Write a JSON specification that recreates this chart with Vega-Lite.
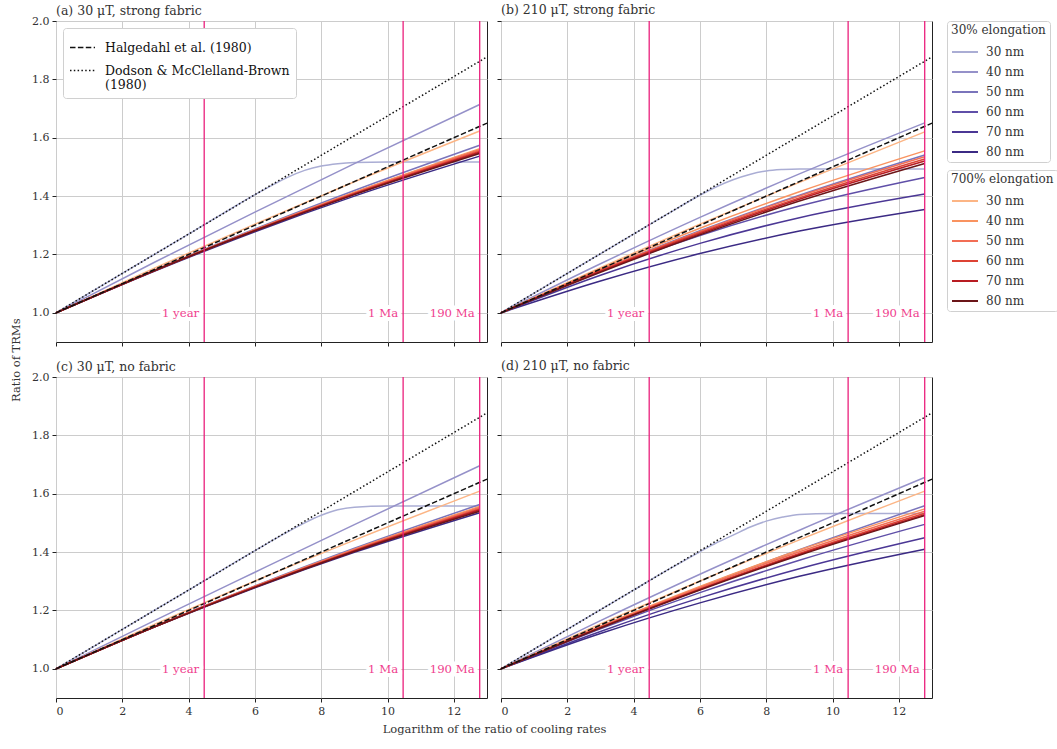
{
  "$schema": "https://vega.github.io/schema/vega-lite/v6.json",
  "padding": {"left": 10, "top": 3, "right": 2, "bottom": 5},
  "datasets": {
    "refs": [
      {"model": "Halgedahl et al. (1980)", "x": 0, "y": 1},
      {"model": "Halgedahl et al. (1980)", "x": 13, "y": 1.65},
      {"model": "Dodson & McClelland-Brown (1980)", "x": 0, "y": 1},
      {"model": "Dodson & McClelland-Brown (1980)", "x": 13, "y": 1.877}
    ],
    "markers": [
      {"event": "1 year", "x": 4.47},
      {"event": "1 Ma", "x": 10.47},
      {"event": "190 Ma", "x": 12.78}
    ],
    "curves": [
      {"panel":"a","elong":"30%","size_30":"30 nm","x":0,"y":1},{"panel":"a","elong":"30%","size_30":"30 nm","x":2,"y":1.135},{"panel":"a","elong":"30%","size_30":"30 nm","x":4,"y":1.27},{"panel":"a","elong":"30%","size_30":"30 nm","x":5,"y":1.338},{"panel":"a","elong":"30%","size_30":"30 nm","x":6,"y":1.405},{"panel":"a","elong":"30%","size_30":"30 nm","x":6.5,"y":1.436},{"panel":"a","elong":"30%","size_30":"30 nm","x":7,"y":1.465},{"panel":"a","elong":"30%","size_30":"30 nm","x":7.5,"y":1.488},{"panel":"a","elong":"30%","size_30":"30 nm","x":8,"y":1.503},{"panel":"a","elong":"30%","size_30":"30 nm","x":8.5,"y":1.511},{"panel":"a","elong":"30%","size_30":"30 nm","x":9,"y":1.515},{"panel":"a","elong":"30%","size_30":"30 nm","x":10,"y":1.517},{"panel":"a","elong":"30%","size_30":"30 nm","x":12.78,"y":1.517},
      {"panel":"a","elong":"30%","size_30":"40 nm","x":0,"y":1},{"panel":"a","elong":"30%","size_30":"40 nm","x":3,"y":1.175},{"panel":"a","elong":"30%","size_30":"40 nm","x":6,"y":1.345},{"panel":"a","elong":"30%","size_30":"40 nm","x":9,"y":1.511},{"panel":"a","elong":"30%","size_30":"40 nm","x":12.78,"y":1.714},
      {"panel":"a","elong":"30%","size_30":"50 nm","x":0,"y":1},{"panel":"a","elong":"30%","size_30":"50 nm","x":3,"y":1.148},{"panel":"a","elong":"30%","size_30":"50 nm","x":6,"y":1.287},{"panel":"a","elong":"30%","size_30":"50 nm","x":9,"y":1.419},{"panel":"a","elong":"30%","size_30":"50 nm","x":12.78,"y":1.574},
      {"panel":"a","elong":"30%","size_30":"60 nm","x":0,"y":1},{"panel":"a","elong":"30%","size_30":"60 nm","x":3,"y":1.147},{"panel":"a","elong":"30%","size_30":"60 nm","x":6,"y":1.284},{"panel":"a","elong":"30%","size_30":"60 nm","x":9,"y":1.412},{"panel":"a","elong":"30%","size_30":"60 nm","x":12.78,"y":1.56},
      {"panel":"a","elong":"30%","size_30":"70 nm","x":0,"y":1},{"panel":"a","elong":"30%","size_30":"70 nm","x":3,"y":1.146},{"panel":"a","elong":"30%","size_30":"70 nm","x":6,"y":1.281},{"panel":"a","elong":"30%","size_30":"70 nm","x":9,"y":1.407},{"panel":"a","elong":"30%","size_30":"70 nm","x":12.78,"y":1.55},
      {"panel":"a","elong":"30%","size_30":"80 nm","x":0,"y":1},{"panel":"a","elong":"30%","size_30":"80 nm","x":3,"y":1.144},{"panel":"a","elong":"30%","size_30":"80 nm","x":6,"y":1.278},{"panel":"a","elong":"30%","size_30":"80 nm","x":9,"y":1.4},{"panel":"a","elong":"30%","size_30":"80 nm","x":12.78,"y":1.537},
      {"panel":"a","elong":"700%","size_700":30,"x":0,"y":1},{"panel":"a","elong":"700%","size_700":30,"x":3,"y":1.155},{"panel":"a","elong":"700%","size_700":30,"x":6,"y":1.304},{"panel":"a","elong":"700%","size_700":30,"x":9,"y":1.449},{"panel":"a","elong":"700%","size_700":30,"x":12.78,"y":1.623},
      {"panel":"a","elong":"700%","size_700":40,"x":0,"y":1},{"panel":"a","elong":"700%","size_700":40,"x":3,"y":1.147},{"panel":"a","elong":"700%","size_700":40,"x":6,"y":1.285},{"panel":"a","elong":"700%","size_700":40,"x":9,"y":1.413},{"panel":"a","elong":"700%","size_700":40,"x":12.78,"y":1.562},
      {"panel":"a","elong":"700%","size_700":50,"x":0,"y":1},{"panel":"a","elong":"700%","size_700":50,"x":3,"y":1.147},{"panel":"a","elong":"700%","size_700":50,"x":6,"y":1.284},{"panel":"a","elong":"700%","size_700":50,"x":9,"y":1.411},{"panel":"a","elong":"700%","size_700":50,"x":12.78,"y":1.558},
      {"panel":"a","elong":"700%","size_700":60,"x":0,"y":1},{"panel":"a","elong":"700%","size_700":60,"x":3,"y":1.146},{"panel":"a","elong":"700%","size_700":60,"x":6,"y":1.283},{"panel":"a","elong":"700%","size_700":60,"x":9,"y":1.409},{"panel":"a","elong":"700%","size_700":60,"x":12.78,"y":1.554},
      {"panel":"a","elong":"700%","size_700":70,"x":0,"y":1},{"panel":"a","elong":"700%","size_700":70,"x":3,"y":1.146},{"panel":"a","elong":"700%","size_700":70,"x":6,"y":1.282},{"panel":"a","elong":"700%","size_700":70,"x":9,"y":1.407},{"panel":"a","elong":"700%","size_700":70,"x":12.78,"y":1.55},
      {"panel":"a","elong":"700%","size_700":80,"x":0,"y":1},{"panel":"a","elong":"700%","size_700":80,"x":3,"y":1.146},{"panel":"a","elong":"700%","size_700":80,"x":6,"y":1.281},{"panel":"a","elong":"700%","size_700":80,"x":9,"y":1.405},{"panel":"a","elong":"700%","size_700":80,"x":12.78,"y":1.546},

      {"panel":"b","elong":"30%","size_30":"30 nm","x":0,"y":1},{"panel":"b","elong":"30%","size_30":"30 nm","x":2,"y":1.135},{"panel":"b","elong":"30%","size_30":"30 nm","x":4,"y":1.27},{"panel":"b","elong":"30%","size_30":"30 nm","x":5,"y":1.337},{"panel":"b","elong":"30%","size_30":"30 nm","x":6,"y":1.403},{"panel":"b","elong":"30%","size_30":"30 nm","x":6.5,"y":1.432},{"panel":"b","elong":"30%","size_30":"30 nm","x":7,"y":1.456},{"panel":"b","elong":"30%","size_30":"30 nm","x":7.5,"y":1.474},{"panel":"b","elong":"30%","size_30":"30 nm","x":8,"y":1.486},{"panel":"b","elong":"30%","size_30":"30 nm","x":8.5,"y":1.491},{"panel":"b","elong":"30%","size_30":"30 nm","x":9,"y":1.493},{"panel":"b","elong":"30%","size_30":"30 nm","x":10,"y":1.493},{"panel":"b","elong":"30%","size_30":"30 nm","x":12.78,"y":1.493},
      {"panel":"b","elong":"30%","size_30":"40 nm","x":0,"y":1},{"panel":"b","elong":"30%","size_30":"40 nm","x":3,"y":1.168},{"panel":"b","elong":"30%","size_30":"40 nm","x":6,"y":1.327},{"panel":"b","elong":"30%","size_30":"40 nm","x":9,"y":1.476},{"panel":"b","elong":"30%","size_30":"40 nm","x":12.78,"y":1.651},
      {"panel":"b","elong":"30%","size_30":"50 nm","x":0,"y":1},{"panel":"b","elong":"30%","size_30":"50 nm","x":3,"y":1.146},{"panel":"b","elong":"30%","size_30":"50 nm","x":6,"y":1.281},{"panel":"b","elong":"30%","size_30":"50 nm","x":9,"y":1.403},{"panel":"b","elong":"30%","size_30":"50 nm","x":12.78,"y":1.541},
      {"panel":"b","elong":"30%","size_30":"60 nm","x":0,"y":1},{"panel":"b","elong":"30%","size_30":"60 nm","x":3,"y":1.143},{"panel":"b","elong":"30%","size_30":"60 nm","x":6,"y":1.265},{"panel":"b","elong":"30%","size_30":"60 nm","x":9,"y":1.366},{"panel":"b","elong":"30%","size_30":"60 nm","x":12.78,"y":1.464},
      {"panel":"b","elong":"30%","size_30":"70 nm","x":0,"y":1},{"panel":"b","elong":"30%","size_30":"70 nm","x":3,"y":1.129},{"panel":"b","elong":"30%","size_30":"70 nm","x":6,"y":1.238},{"panel":"b","elong":"30%","size_30":"70 nm","x":9,"y":1.326},{"panel":"b","elong":"30%","size_30":"70 nm","x":12.78,"y":1.407},
      {"panel":"b","elong":"30%","size_30":"80 nm","x":0,"y":1},{"panel":"b","elong":"30%","size_30":"80 nm","x":3,"y":1.109},{"panel":"b","elong":"30%","size_30":"80 nm","x":6,"y":1.203},{"panel":"b","elong":"30%","size_30":"80 nm","x":9,"y":1.28},{"panel":"b","elong":"30%","size_30":"80 nm","x":12.78,"y":1.354},
      {"panel":"b","elong":"700%","size_700":30,"x":0,"y":1},{"panel":"b","elong":"700%","size_700":30,"x":3,"y":1.155},{"panel":"b","elong":"700%","size_700":30,"x":6,"y":1.304},{"panel":"b","elong":"700%","size_700":30,"x":9,"y":1.447},{"panel":"b","elong":"700%","size_700":30,"x":12.78,"y":1.62},
      {"panel":"b","elong":"700%","size_700":40,"x":0,"y":1},{"panel":"b","elong":"700%","size_700":40,"x":3,"y":1.151},{"panel":"b","elong":"700%","size_700":40,"x":6,"y":1.29},{"panel":"b","elong":"700%","size_700":40,"x":9,"y":1.415},{"panel":"b","elong":"700%","size_700":40,"x":12.78,"y":1.555},
      {"panel":"b","elong":"700%","size_700":50,"x":0,"y":1},{"panel":"b","elong":"700%","size_700":50,"x":3,"y":1.146},{"panel":"b","elong":"700%","size_700":50,"x":6,"y":1.279},{"panel":"b","elong":"700%","size_700":50,"x":9,"y":1.4},{"panel":"b","elong":"700%","size_700":50,"x":12.78,"y":1.535},
      {"panel":"b","elong":"700%","size_700":60,"x":0,"y":1},{"panel":"b","elong":"700%","size_700":60,"x":3,"y":1.144},{"panel":"b","elong":"700%","size_700":60,"x":6,"y":1.275},{"panel":"b","elong":"700%","size_700":60,"x":9,"y":1.394},{"panel":"b","elong":"700%","size_700":60,"x":12.78,"y":1.527},
      {"panel":"b","elong":"700%","size_700":70,"x":0,"y":1},{"panel":"b","elong":"700%","size_700":70,"x":3,"y":1.142},{"panel":"b","elong":"700%","size_700":70,"x":6,"y":1.271},{"panel":"b","elong":"700%","size_700":70,"x":9,"y":1.389},{"panel":"b","elong":"700%","size_700":70,"x":12.78,"y":1.52},
      {"panel":"b","elong":"700%","size_700":80,"x":0,"y":1},{"panel":"b","elong":"700%","size_700":80,"x":3,"y":1.139},{"panel":"b","elong":"700%","size_700":80,"x":6,"y":1.267},{"panel":"b","elong":"700%","size_700":80,"x":9,"y":1.383},{"panel":"b","elong":"700%","size_700":80,"x":12.78,"y":1.512},

      {"panel":"c","elong":"30%","size_30":"30 nm","x":0,"y":1},{"panel":"c","elong":"30%","size_30":"30 nm","x":2,"y":1.135},{"panel":"c","elong":"30%","size_30":"30 nm","x":4,"y":1.27},{"panel":"c","elong":"30%","size_30":"30 nm","x":6,"y":1.405},{"panel":"c","elong":"30%","size_30":"30 nm","x":7,"y":1.47},{"panel":"c","elong":"30%","size_30":"30 nm","x":7.5,"y":1.5},{"panel":"c","elong":"30%","size_30":"30 nm","x":8,"y":1.526},{"panel":"c","elong":"30%","size_30":"30 nm","x":8.5,"y":1.545},{"panel":"c","elong":"30%","size_30":"30 nm","x":9,"y":1.554},{"panel":"c","elong":"30%","size_30":"30 nm","x":10,"y":1.558},{"panel":"c","elong":"30%","size_30":"30 nm","x":12.78,"y":1.558},
      {"panel":"c","elong":"30%","size_30":"40 nm","x":0,"y":1},{"panel":"c","elong":"30%","size_30":"40 nm","x":3,"y":1.167},{"panel":"c","elong":"30%","size_30":"40 nm","x":6,"y":1.331},{"panel":"c","elong":"30%","size_30":"40 nm","x":9,"y":1.494},{"panel":"c","elong":"30%","size_30":"40 nm","x":12.78,"y":1.696},
      {"panel":"c","elong":"30%","size_30":"50 nm","x":0,"y":1},{"panel":"c","elong":"30%","size_30":"50 nm","x":3,"y":1.147},{"panel":"c","elong":"30%","size_30":"50 nm","x":6,"y":1.284},{"panel":"c","elong":"30%","size_30":"50 nm","x":9,"y":1.413},{"panel":"c","elong":"30%","size_30":"50 nm","x":12.78,"y":1.563},
      {"panel":"c","elong":"30%","size_30":"60 nm","x":0,"y":1},{"panel":"c","elong":"30%","size_30":"60 nm","x":3,"y":1.146},{"panel":"c","elong":"30%","size_30":"60 nm","x":6,"y":1.282},{"panel":"c","elong":"30%","size_30":"60 nm","x":9,"y":1.408},{"panel":"c","elong":"30%","size_30":"60 nm","x":12.78,"y":1.553},
      {"panel":"c","elong":"30%","size_30":"70 nm","x":0,"y":1},{"panel":"c","elong":"30%","size_30":"70 nm","x":3,"y":1.146},{"panel":"c","elong":"30%","size_30":"70 nm","x":6,"y":1.28},{"panel":"c","elong":"30%","size_30":"70 nm","x":9,"y":1.404},{"panel":"c","elong":"30%","size_30":"70 nm","x":12.78,"y":1.545},
      {"panel":"c","elong":"30%","size_30":"80 nm","x":0,"y":1},{"panel":"c","elong":"30%","size_30":"80 nm","x":3,"y":1.145},{"panel":"c","elong":"30%","size_30":"80 nm","x":6,"y":1.278},{"panel":"c","elong":"30%","size_30":"80 nm","x":9,"y":1.399},{"panel":"c","elong":"30%","size_30":"80 nm","x":12.78,"y":1.535},
      {"panel":"c","elong":"700%","size_700":30,"x":0,"y":1},{"panel":"c","elong":"700%","size_700":30,"x":3,"y":1.154},{"panel":"c","elong":"700%","size_700":30,"x":6,"y":1.301},{"panel":"c","elong":"700%","size_700":30,"x":9,"y":1.441},{"panel":"c","elong":"700%","size_700":30,"x":12.78,"y":1.609},
      {"panel":"c","elong":"700%","size_700":40,"x":0,"y":1},{"panel":"c","elong":"700%","size_700":40,"x":3,"y":1.146},{"panel":"c","elong":"700%","size_700":40,"x":6,"y":1.283},{"panel":"c","elong":"700%","size_700":40,"x":9,"y":1.41},{"panel":"c","elong":"700%","size_700":40,"x":12.78,"y":1.556},
      {"panel":"c","elong":"700%","size_700":50,"x":0,"y":1},{"panel":"c","elong":"700%","size_700":50,"x":3,"y":1.146},{"panel":"c","elong":"700%","size_700":50,"x":6,"y":1.282},{"panel":"c","elong":"700%","size_700":50,"x":9,"y":1.408},{"panel":"c","elong":"700%","size_700":50,"x":12.78,"y":1.552},
      {"panel":"c","elong":"700%","size_700":60,"x":0,"y":1},{"panel":"c","elong":"700%","size_700":60,"x":3,"y":1.146},{"panel":"c","elong":"700%","size_700":60,"x":6,"y":1.281},{"panel":"c","elong":"700%","size_700":60,"x":9,"y":1.406},{"panel":"c","elong":"700%","size_700":60,"x":12.78,"y":1.548},
      {"panel":"c","elong":"700%","size_700":70,"x":0,"y":1},{"panel":"c","elong":"700%","size_700":70,"x":3,"y":1.145},{"panel":"c","elong":"700%","size_700":70,"x":6,"y":1.28},{"panel":"c","elong":"700%","size_700":70,"x":9,"y":1.404},{"panel":"c","elong":"700%","size_700":70,"x":12.78,"y":1.544},
      {"panel":"c","elong":"700%","size_700":80,"x":0,"y":1},{"panel":"c","elong":"700%","size_700":80,"x":3,"y":1.145},{"panel":"c","elong":"700%","size_700":80,"x":6,"y":1.279},{"panel":"c","elong":"700%","size_700":80,"x":9,"y":1.402},{"panel":"c","elong":"700%","size_700":80,"x":12.78,"y":1.54},

      {"panel":"d","elong":"30%","size_30":"30 nm","x":0,"y":1},{"panel":"d","elong":"30%","size_30":"30 nm","x":2,"y":1.135},{"panel":"d","elong":"30%","size_30":"30 nm","x":4,"y":1.27},{"panel":"d","elong":"30%","size_30":"30 nm","x":5,"y":1.337},{"panel":"d","elong":"30%","size_30":"30 nm","x":6,"y":1.401},{"panel":"d","elong":"30%","size_30":"30 nm","x":6.5,"y":1.432},{"panel":"d","elong":"30%","size_30":"30 nm","x":7,"y":1.458},{"panel":"d","elong":"30%","size_30":"30 nm","x":7.5,"y":1.485},{"panel":"d","elong":"30%","size_30":"30 nm","x":8,"y":1.506},{"panel":"d","elong":"30%","size_30":"30 nm","x":8.5,"y":1.52},{"panel":"d","elong":"30%","size_30":"30 nm","x":9,"y":1.529},{"panel":"d","elong":"30%","size_30":"30 nm","x":10,"y":1.532},{"panel":"d","elong":"30%","size_30":"30 nm","x":12.78,"y":1.532},
      {"panel":"d","elong":"30%","size_30":"40 nm","x":0,"y":1},{"panel":"d","elong":"30%","size_30":"40 nm","x":3,"y":1.165},{"panel":"d","elong":"30%","size_30":"40 nm","x":6,"y":1.324},{"panel":"d","elong":"30%","size_30":"40 nm","x":9,"y":1.475},{"panel":"d","elong":"30%","size_30":"40 nm","x":12.78,"y":1.656},
      {"panel":"d","elong":"30%","size_30":"50 nm","x":0,"y":1},{"panel":"d","elong":"30%","size_30":"50 nm","x":3,"y":1.144},{"panel":"d","elong":"30%","size_30":"50 nm","x":6,"y":1.28},{"panel":"d","elong":"30%","size_30":"50 nm","x":9,"y":1.408},{"panel":"d","elong":"30%","size_30":"50 nm","x":12.78,"y":1.559},
      {"panel":"d","elong":"30%","size_30":"60 nm","x":0,"y":1},{"panel":"d","elong":"30%","size_30":"60 nm","x":3,"y":1.137},{"panel":"d","elong":"30%","size_30":"60 nm","x":6,"y":1.261},{"panel":"d","elong":"30%","size_30":"60 nm","x":9,"y":1.372},{"panel":"d","elong":"30%","size_30":"60 nm","x":12.78,"y":1.495},
      {"panel":"d","elong":"30%","size_30":"70 nm","x":0,"y":1},{"panel":"d","elong":"30%","size_30":"70 nm","x":3,"y":1.128},{"panel":"d","elong":"30%","size_30":"70 nm","x":6,"y":1.243},{"panel":"d","elong":"30%","size_30":"70 nm","x":9,"y":1.343},{"panel":"d","elong":"30%","size_30":"70 nm","x":12.78,"y":1.449},
      {"panel":"d","elong":"30%","size_30":"80 nm","x":0,"y":1},{"panel":"d","elong":"30%","size_30":"80 nm","x":3,"y":1.121},{"panel":"d","elong":"30%","size_30":"80 nm","x":6,"y":1.226},{"panel":"d","elong":"30%","size_30":"80 nm","x":9,"y":1.317},{"panel":"d","elong":"30%","size_30":"80 nm","x":12.78,"y":1.41},
      {"panel":"d","elong":"700%","size_700":30,"x":0,"y":1},{"panel":"d","elong":"700%","size_700":30,"x":3,"y":1.154},{"panel":"d","elong":"700%","size_700":30,"x":6,"y":1.301},{"panel":"d","elong":"700%","size_700":30,"x":9,"y":1.442},{"panel":"d","elong":"700%","size_700":30,"x":12.78,"y":1.609},
      {"panel":"d","elong":"700%","size_700":40,"x":0,"y":1},{"panel":"d","elong":"700%","size_700":40,"x":3,"y":1.146},{"panel":"d","elong":"700%","size_700":40,"x":6,"y":1.282},{"panel":"d","elong":"700%","size_700":40,"x":9,"y":1.407},{"panel":"d","elong":"700%","size_700":40,"x":12.78,"y":1.548},
      {"panel":"d","elong":"700%","size_700":50,"x":0,"y":1},{"panel":"d","elong":"700%","size_700":50,"x":3,"y":1.144},{"panel":"d","elong":"700%","size_700":50,"x":6,"y":1.278},{"panel":"d","elong":"700%","size_700":50,"x":9,"y":1.401},{"panel":"d","elong":"700%","size_700":50,"x":12.78,"y":1.54},
      {"panel":"d","elong":"700%","size_700":60,"x":0,"y":1},{"panel":"d","elong":"700%","size_700":60,"x":3,"y":1.142},{"panel":"d","elong":"700%","size_700":60,"x":6,"y":1.274},{"panel":"d","elong":"700%","size_700":60,"x":9,"y":1.395},{"panel":"d","elong":"700%","size_700":60,"x":12.78,"y":1.533},
      {"panel":"d","elong":"700%","size_700":70,"x":0,"y":1},{"panel":"d","elong":"700%","size_700":70,"x":3,"y":1.141},{"panel":"d","elong":"700%","size_700":70,"x":6,"y":1.272},{"panel":"d","elong":"700%","size_700":70,"x":9,"y":1.392},{"panel":"d","elong":"700%","size_700":70,"x":12.78,"y":1.528},
      {"panel":"d","elong":"700%","size_700":80,"x":0,"y":1},{"panel":"d","elong":"700%","size_700":80,"x":3,"y":1.14},{"panel":"d","elong":"700%","size_700":80,"x":6,"y":1.27},{"panel":"d","elong":"700%","size_700":80,"x":9,"y":1.389},{"panel":"d","elong":"700%","size_700":80,"x":12.78,"y":1.525}
    ]
  },
  "columns": 2,
  "spacing": {"row": 35, "column": 14},
  "bounds": "flush",
  "resolve": {"legend": {"color": "independent", "stroke": "independent", "strokeDash": "independent"}},
  "concat": [
    {
      "width": 431, "height": 321,
      "title": {"text": "(a) 30 μT, strong fabric", "offset": -2},
      "encoding": {
        "x": {"field": "x", "type": "quantitative", "scale": {"domain": [0, 13], "nice": false, "zero": false}, "axis": {"values": [0, 2, 4, 6, 8, 10, 12], "labels": false, "title": null}}
      },
      "layer": [
        {"data": {"name": "curves"}, "transform": [{"filter": "datum.panel == 'a' && datum.elong == '30%'"}], "mark": {"type": "line", "strokeWidth": 1.5, "interpolate": "monotone"},
         "encoding": {
           "y": {"field": "y", "type": "quantitative", "scale": {"domain": [0.9, 2.0], "nice": false, "zero": false}, "axis": {"values": [1.0, 1.2, 1.4, 1.6, 1.8, 2.0], "format": ".1f", "title": "Ratio of TRMs", "titleY": 338.7, "titlePadding": 10}},
           "color": {"field": "size_30", "type": "nominal", "scale": {"domain": ["30 nm", "40 nm", "50 nm", "60 nm", "70 nm", "80 nm"], "range": ["#aaadd4", "#9591c9", "#7a74bb", "#5f4fa8", "#4b3795", "#3b2a84"]}, "legend": null}}},
        {"data": {"name": "curves"}, "transform": [{"filter": "datum.panel == 'a' && datum.elong == '700%'"}], "mark": {"type": "line", "strokeWidth": 1.5, "interpolate": "monotone"},
         "encoding": {
           "y": {"field": "y", "type": "quantitative", "scale": {"domain": [0.9, 2.0], "nice": false, "zero": false}, "axis": {"values": [1.0, 1.2, 1.4, 1.6, 1.8, 2.0], "format": ".1f", "title": "Ratio of TRMs", "titleY": 338.7, "titlePadding": 10}},
           "stroke": {"field": "size_700", "type": "nominal", "scale": {"domain": [30, 40, 50, 60, 70, 80], "range": ["#fcb585", "#f99360", "#f26e55", "#dd4334", "#b81c22", "#6b1518"]}, "legend": null}}},
        {"data": {"name": "refs"}, "mark": {"type": "line", "strokeWidth": 1.5, "color": "#111"},
         "encoding": {
           "y": {"field": "y", "type": "quantitative", "scale": {"domain": [0.9, 2.0], "nice": false, "zero": false}, "axis": {"values": [1.0, 1.2, 1.4, 1.6, 1.8, 2.0], "format": ".1f", "title": "Ratio of TRMs", "titleY": 338.7, "titlePadding": 10}},
           "strokeDash": {"field": "model", "type": "nominal", "scale": {"domain": ["Halgedahl et al. (1980)", "Dodson & McClelland-Brown (1980)"], "range": [[5.5, 2.4], [1.5, 2.3]]},
           "legend": {"title": null, "orient": "top-left", "offset": 7, "fillColor": "white", "symbolStrokeColor": "#111", "symbolStrokeWidth": 1.5, "symbolSize": 625, "labelOffset": 9, "labelColor": "#111", "labelFontSize": 12.5, "labelLimit": 400, "rowPadding": 3, "padding": 6, "labelExpr": "datum.label == 'Dodson & McClelland-Brown (1980)' ? ['Dodson & McClelland-Brown', '(1980)'] : datum.label"}}}},
        {"data": {"name": "markers"}, "mark": {"type": "rule", "color": "#ea1f7c", "strokeWidth": 1.3}, "encoding": {"y": {"datum": 0.9}, "y2": {"datum": 2.0}}},
        {"data": {"name": "markers"}, "mark": {"type": "text", "align": "right", "baseline": "middle", "dx": -5, "fill": "white", "stroke": "white", "strokeWidth": 8, "strokeJoin": "round", "fontSize": 11.7, "font": "DejaVu Serif"}, "encoding": {"y": {"datum": 1}, "text": {"field": "event"}}},
        {"data": {"name": "markers"}, "mark": {"type": "text", "align": "right", "baseline": "middle", "dx": -5, "color": "#ef3e8e", "fontSize": 11.7, "font": "DejaVu Serif"}, "encoding": {"y": {"datum": 1}, "text": {"field": "event"}}}
      ]
    },
    {
      "width": 431, "height": 321,
      "title": {"text": "(b) 210 μT, strong fabric", "offset": 4},
      "encoding": {
        "x": {"field": "x", "type": "quantitative", "scale": {"domain": [0, 13], "nice": false, "zero": false}, "axis": {"values": [0, 2, 4, 6, 8, 10, 12], "labels": false, "title": null}}
      },
      "layer": [
        {"data": {"name": "curves"}, "transform": [{"filter": "datum.panel == 'b' && datum.elong == '30%'"}], "mark": {"type": "line", "strokeWidth": 1.5, "interpolate": "monotone"},
         "encoding": {
           "y": {"field": "y", "type": "quantitative", "scale": {"domain": [0.9, 2.0], "nice": false, "zero": false}, "axis": {"values": [1.0, 1.2, 1.4, 1.6, 1.8, 2.0], "labels": false, "title": null}},
           "color": {"field": "size_30", "type": "nominal", "scale": {"domain": ["30 nm", "40 nm", "50 nm", "60 nm", "70 nm", "80 nm"], "range": ["#aaadd4", "#9591c9", "#7a74bb", "#5f4fa8", "#4b3795", "#3b2a84"]}, "legend": {"title": "30% elongation", "orient": "right"}}}},
        {"data": {"name": "curves"}, "transform": [{"filter": "datum.panel == 'b' && datum.elong == '700%'"}], "mark": {"type": "line", "strokeWidth": 1.5, "interpolate": "monotone"},
         "encoding": {
           "y": {"field": "y", "type": "quantitative", "scale": {"domain": [0.9, 2.0], "nice": false, "zero": false}, "axis": {"values": [1.0, 1.2, 1.4, 1.6, 1.8, 2.0], "labels": false, "title": null}},
           "stroke": {"field": "size_700", "type": "nominal", "scale": {"domain": [30, 40, 50, 60, 70, 80], "range": ["#fcb585", "#f99360", "#f26e55", "#dd4334", "#b81c22", "#6b1518"]}, "legend": {"title": "700% elongation", "orient": "right", "labelExpr": "datum.label + ' nm'"}}}},
        {"data": {"name": "refs"}, "mark": {"type": "line", "strokeWidth": 1.5, "color": "#111"},
         "encoding": {
           "y": {"field": "y", "type": "quantitative", "scale": {"domain": [0.9, 2.0], "nice": false, "zero": false}, "axis": {"values": [1.0, 1.2, 1.4, 1.6, 1.8, 2.0], "labels": false, "title": null}},
           "strokeDash": {"field": "model", "type": "nominal", "scale": {"domain": ["Halgedahl et al. (1980)", "Dodson & McClelland-Brown (1980)"], "range": [[5.5, 2.4], [1.5, 2.3]]}, "legend": null}}},
        {"data": {"name": "markers"}, "mark": {"type": "rule", "color": "#ea1f7c", "strokeWidth": 1.3}, "encoding": {"y": {"datum": 0.9}, "y2": {"datum": 2.0}}},
        {"data": {"name": "markers"}, "mark": {"type": "text", "align": "right", "baseline": "middle", "dx": -5, "fill": "white", "stroke": "white", "strokeWidth": 8, "strokeJoin": "round", "fontSize": 11.7, "font": "DejaVu Serif"}, "encoding": {"y": {"datum": 1}, "text": {"field": "event"}}},
        {"data": {"name": "markers"}, "mark": {"type": "text", "align": "right", "baseline": "middle", "dx": -5, "color": "#ef3e8e", "fontSize": 11.7, "font": "DejaVu Serif"}, "encoding": {"y": {"datum": 1}, "text": {"field": "event"}}}
      ]
    },
    {
      "width": 431, "height": 321,
      "title": {"text": "(c) 30 μT, no fabric", "offset": -2},
      "encoding": {
        "x": {"field": "x", "type": "quantitative", "scale": {"domain": [0, 13], "nice": false, "zero": false}, "axis": {"values": [0, 2, 4, 6, 8, 10, 12], "format": "d", "title": "Logarithm of the ratio of cooling rates", "titleX": 438, "titleAlign": "center", "titlePadding": 7}}
      },
      "layer": [
        {"data": {"name": "curves"}, "transform": [{"filter": "datum.panel == 'c' && datum.elong == '30%'"}], "mark": {"type": "line", "strokeWidth": 1.5, "interpolate": "monotone"},
         "encoding": {
           "y": {"field": "y", "type": "quantitative", "scale": {"domain": [0.9, 2.0], "nice": false, "zero": false}, "axis": {"values": [1.0, 1.2, 1.4, 1.6, 1.8, 2.0], "format": ".1f", "title": null}},
           "color": {"field": "size_30", "type": "nominal", "scale": {"domain": ["30 nm", "40 nm", "50 nm", "60 nm", "70 nm", "80 nm"], "range": ["#aaadd4", "#9591c9", "#7a74bb", "#5f4fa8", "#4b3795", "#3b2a84"]}, "legend": null}}},
        {"data": {"name": "curves"}, "transform": [{"filter": "datum.panel == 'c' && datum.elong == '700%'"}], "mark": {"type": "line", "strokeWidth": 1.5, "interpolate": "monotone"},
         "encoding": {
           "y": {"field": "y", "type": "quantitative", "scale": {"domain": [0.9, 2.0], "nice": false, "zero": false}, "axis": {"values": [1.0, 1.2, 1.4, 1.6, 1.8, 2.0], "format": ".1f", "title": null}},
           "stroke": {"field": "size_700", "type": "nominal", "scale": {"domain": [30, 40, 50, 60, 70, 80], "range": ["#fcb585", "#f99360", "#f26e55", "#dd4334", "#b81c22", "#6b1518"]}, "legend": null}}},
        {"data": {"name": "refs"}, "mark": {"type": "line", "strokeWidth": 1.5, "color": "#111"},
         "encoding": {
           "y": {"field": "y", "type": "quantitative", "scale": {"domain": [0.9, 2.0], "nice": false, "zero": false}, "axis": {"values": [1.0, 1.2, 1.4, 1.6, 1.8, 2.0], "format": ".1f", "title": null}},
           "strokeDash": {"field": "model", "type": "nominal", "scale": {"domain": ["Halgedahl et al. (1980)", "Dodson & McClelland-Brown (1980)"], "range": [[5.5, 2.4], [1.5, 2.3]]}, "legend": null}}},
        {"data": {"name": "markers"}, "mark": {"type": "rule", "color": "#ea1f7c", "strokeWidth": 1.3}, "encoding": {"y": {"datum": 0.9}, "y2": {"datum": 2.0}}},
        {"data": {"name": "markers"}, "mark": {"type": "text", "align": "right", "baseline": "middle", "dx": -5, "fill": "white", "stroke": "white", "strokeWidth": 8, "strokeJoin": "round", "fontSize": 11.7, "font": "DejaVu Serif"}, "encoding": {"y": {"datum": 1}, "text": {"field": "event"}}},
        {"data": {"name": "markers"}, "mark": {"type": "text", "align": "right", "baseline": "middle", "dx": -5, "color": "#ef3e8e", "fontSize": 11.7, "font": "DejaVu Serif"}, "encoding": {"y": {"datum": 1}, "text": {"field": "event"}}}
      ]
    },
    {
      "width": 431, "height": 321,
      "title": {"text": "(d) 210 μT, no fabric", "offset": 4},
      "encoding": {
        "x": {"field": "x", "type": "quantitative", "scale": {"domain": [0, 13], "nice": false, "zero": false}, "axis": {"values": [0, 2, 4, 6, 8, 10, 12], "format": "d", "title": null}}
      },
      "layer": [
        {"data": {"name": "curves"}, "transform": [{"filter": "datum.panel == 'd' && datum.elong == '30%'"}], "mark": {"type": "line", "strokeWidth": 1.5, "interpolate": "monotone"},
         "encoding": {
           "y": {"field": "y", "type": "quantitative", "scale": {"domain": [0.9, 2.0], "nice": false, "zero": false}, "axis": {"values": [1.0, 1.2, 1.4, 1.6, 1.8, 2.0], "labels": false, "title": null}},
           "color": {"field": "size_30", "type": "nominal", "scale": {"domain": ["30 nm", "40 nm", "50 nm", "60 nm", "70 nm", "80 nm"], "range": ["#aaadd4", "#9591c9", "#7a74bb", "#5f4fa8", "#4b3795", "#3b2a84"]}, "legend": null}}},
        {"data": {"name": "curves"}, "transform": [{"filter": "datum.panel == 'd' && datum.elong == '700%'"}], "mark": {"type": "line", "strokeWidth": 1.5, "interpolate": "monotone"},
         "encoding": {
           "y": {"field": "y", "type": "quantitative", "scale": {"domain": [0.9, 2.0], "nice": false, "zero": false}, "axis": {"values": [1.0, 1.2, 1.4, 1.6, 1.8, 2.0], "labels": false, "title": null}},
           "stroke": {"field": "size_700", "type": "nominal", "scale": {"domain": [30, 40, 50, 60, 70, 80], "range": ["#fcb585", "#f99360", "#f26e55", "#dd4334", "#b81c22", "#6b1518"]}, "legend": null}}},
        {"data": {"name": "refs"}, "mark": {"type": "line", "strokeWidth": 1.5, "color": "#111"},
         "encoding": {
           "y": {"field": "y", "type": "quantitative", "scale": {"domain": [0.9, 2.0], "nice": false, "zero": false}, "axis": {"values": [1.0, 1.2, 1.4, 1.6, 1.8, 2.0], "labels": false, "title": null}},
           "strokeDash": {"field": "model", "type": "nominal", "scale": {"domain": ["Halgedahl et al. (1980)", "Dodson & McClelland-Brown (1980)"], "range": [[5.5, 2.4], [1.5, 2.3]]}, "legend": null}}},
        {"data": {"name": "markers"}, "mark": {"type": "rule", "color": "#ea1f7c", "strokeWidth": 1.3}, "encoding": {"y": {"datum": 0.9}, "y2": {"datum": 2.0}}},
        {"data": {"name": "markers"}, "mark": {"type": "text", "align": "right", "baseline": "middle", "dx": -5, "fill": "white", "stroke": "white", "strokeWidth": 8, "strokeJoin": "round", "fontSize": 11.7, "font": "DejaVu Serif"}, "encoding": {"y": {"datum": 1}, "text": {"field": "event"}}},
        {"data": {"name": "markers"}, "mark": {"type": "text", "align": "right", "baseline": "middle", "dx": -5, "color": "#ef3e8e", "fontSize": 11.7, "font": "DejaVu Serif"}, "encoding": {"y": {"datum": 1}, "text": {"field": "event"}}}
      ]
    }
  ],
  "config": {
    "background": "white",
    "view": {"stroke": "#222", "strokeWidth": 1},
    "title": {"font": "DejaVu Serif", "fontSize": 12.5, "fontWeight": "normal", "anchor": "start", "frame": "group", "color": "#333"},
    "axis": {"grid": true, "gridColor": "#cccccc", "gridWidth": 1, "domain": false, "tickColor": "#222", "tickSize": 4, "tickWidth": 1, "labelFont": "DejaVu Serif", "labelFontSize": 11, "labelColor": "#333", "labelPadding": 3, "titleFont": "DejaVu Serif", "titleFontSize": 11.5, "titleFontWeight": "normal", "titleColor": "#333"},
    "legend": {"symbolType": "stroke", "symbolSize": 676, "symbolStrokeWidth": 2, "labelFont": "DejaVu Serif", "labelFontSize": 12, "labelColor": "#333", "titleFont": "DejaVu Serif", "titleFontSize": 12, "titleFontWeight": "normal", "titleColor": "#333", "titlePadding": 1, "strokeColor": "#d0d0d0", "padding": 4, "cornerRadius": 3, "rowPadding": -12, "labelOffset": 7, "offset": 12}
  }
}
